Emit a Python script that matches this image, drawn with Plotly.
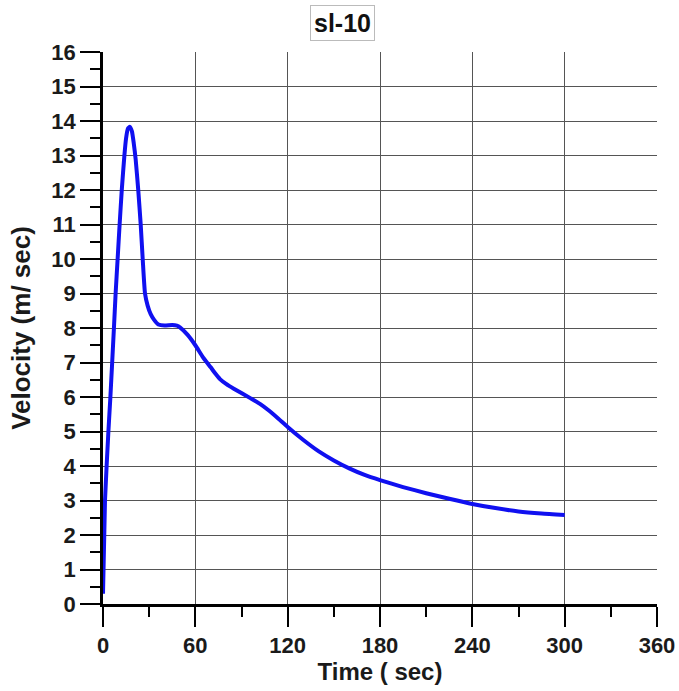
import plotly.graph_objects as go

# Velocity history for run sl-10
time_s = [0, 1.3, 3.5, 4.8, 7.1, 8.2, 9.5, 10.8, 12.2, 13.9, 15.0, 16.2, 17.5, 18.8,
          20.0, 21.2, 22.9, 24.5, 25.8, 27.3, 29, 31, 33, 36, 40, 45, 48, 50, 55,
          60, 65, 70, 73, 76, 80, 85, 96, 102, 108, 114, 120, 130, 140, 150, 160, 170,
          180, 195, 210, 225, 240, 255, 270, 285, 300]
velocity = [0.3, 3.0, 5.0, 6.0, 8.0, 9.0, 10.0, 11.0, 12.0, 13.0, 13.5, 13.78, 13.83, 13.7,
            13.35, 12.9, 12.0, 11.0, 10.0, 9.0, 8.65, 8.4, 8.25, 8.1, 8.07, 8.09, 8.07, 8.02, 7.8,
            7.5, 7.15, 6.86, 6.68, 6.52, 6.38, 6.24, 5.96, 5.8, 5.6, 5.37, 5.13, 4.76, 4.43,
            4.16, 3.93, 3.74, 3.59, 3.39, 3.21, 3.05, 2.9, 2.78, 2.68, 2.62, 2.58]

x_ticks = [0, 60, 120, 180, 240, 300, 360]
y_ticks = list(range(0, 17))

FONT = "Liberation Sans, Arial, sans-serif"
tick_font = dict(family=FONT, size=22, color="#1a1a1a", weight="bold")

fig = go.Figure()
fig.add_trace(go.Scatter(
    x=time_s, y=velocity, mode="lines",
    line=dict(color="#1010f0", width=4, shape="spline", smoothing=0.5),
    showlegend=False,
))

axis_common = dict(
    ticks="outside", ticklen=20, tickwidth=2, tickcolor="black",
    showline=True, linewidth=2.5, linecolor="black",
    showgrid=True, gridcolor="#555555", gridwidth=1,
    zeroline=False, tickfont=tick_font, automargin=False,
)

fig.update_xaxes(
    range=[0, 360], tickvals=x_ticks, ticktext=[str(v) for v in x_ticks],
    minor=dict(dtick=30, tick0=0, ticks="outside", ticklen=10, tickwidth=2,
               tickcolor="black", showgrid=False),
    title=dict(text="Time ( sec)",
               font=dict(family=FONT, size=24, color="#1a1a1a", weight="bold"),
               standoff=2),
    **axis_common,
)
fig.update_yaxes(
    range=[0, 16], tickvals=y_ticks, ticktext=[str(v) for v in y_ticks],
    minor=dict(dtick=0.5, tick0=0, ticks="outside", ticklen=10, tickwidth=2,
               tickcolor="black", showgrid=False),
    title=dict(text="Velocity (m/ sec)",
               font=dict(family=FONT, size=26, color="#1a1a1a", weight="bold"),
               standoff=14),
    **axis_common,
)

fig.add_annotation(
    text="<b>sl-10</b>", xref="paper", yref="paper", x=0.432, y=1.0525,
    xanchor="center", yanchor="middle", showarrow=False,
    font=dict(family=FONT, size=25, color="#111111"),
    bordercolor="#bbbbbb", borderwidth=1, borderpad=3, bgcolor="white",
)

fig.update_layout(
    width=679, height=691,
    margin=dict(l=103, r=22, t=52, b=87),
    paper_bgcolor="white", plot_bgcolor="white",
)

fig.write_html("out.html")
